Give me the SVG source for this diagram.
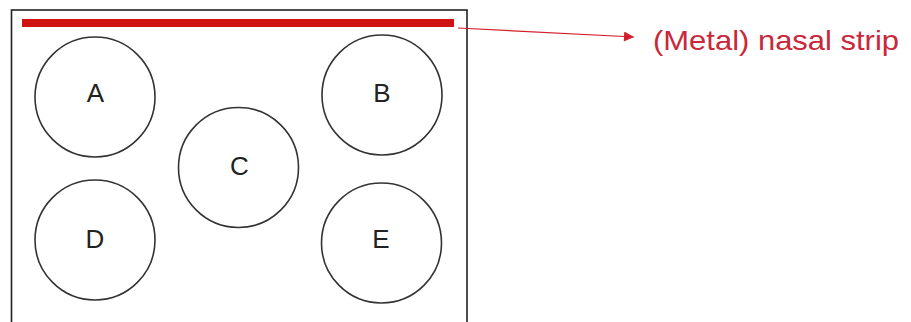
<svg xmlns="http://www.w3.org/2000/svg" width="911" height="322" viewBox="0 0 911 322">
<defs>
<style>
.c{fill:#fff;stroke:#333;stroke-width:1.6}
.t{font-family:"Liberation Sans",Arial,sans-serif;font-size:26px;fill:#222;text-anchor:middle}
.lbl{font-family:"Liberation Sans",Arial,sans-serif;font-size:28px;fill:#c8283a}
</style>
<marker id="ah" viewBox="0 0 10 10" refX="10" refY="5" markerWidth="14" markerHeight="10" markerUnits="userSpaceOnUse" orient="auto">
<path d="M0,0 L10,5 L0,10 z" fill="#d41e2a"/>
</marker>
</defs>
<rect width="911" height="322" fill="#fff"/>
<g id="mask">
<rect x="11.5" y="10" width="455.5" height="330" fill="none" stroke="#222" stroke-width="1.6"/>
<rect x="22" y="19" width="432" height="8" fill="#d01414"/>
</g>
<g id="A"><circle class="c" cx="95" cy="97" r="60"/><text class="t" x="95.5" y="102">A</text></g>
<g id="B"><circle class="c" cx="382" cy="95" r="60"/><text class="t" x="382" y="102">B</text></g>
<g id="C"><circle class="c" cx="238.5" cy="167.5" r="60"/><text class="t" x="239.5" y="175">C</text></g>
<g id="D"><circle class="c" cx="95" cy="240" r="60"/><text class="t" x="95" y="248">D</text></g>
<g id="E"><circle class="c" cx="381.5" cy="243" r="60"/><text class="t" x="381" y="248">E</text></g>
<g id="connectors">
<line x1="458" y1="28" x2="634" y2="37" stroke="#d41e2a" stroke-width="1.2" marker-end="url(#ah)"/>
</g>
<g id="label"><text class="lbl" x="653" y="50" textLength="246" lengthAdjust="spacingAndGlyphs">(Metal) nasal strip</text></g>
</svg>
